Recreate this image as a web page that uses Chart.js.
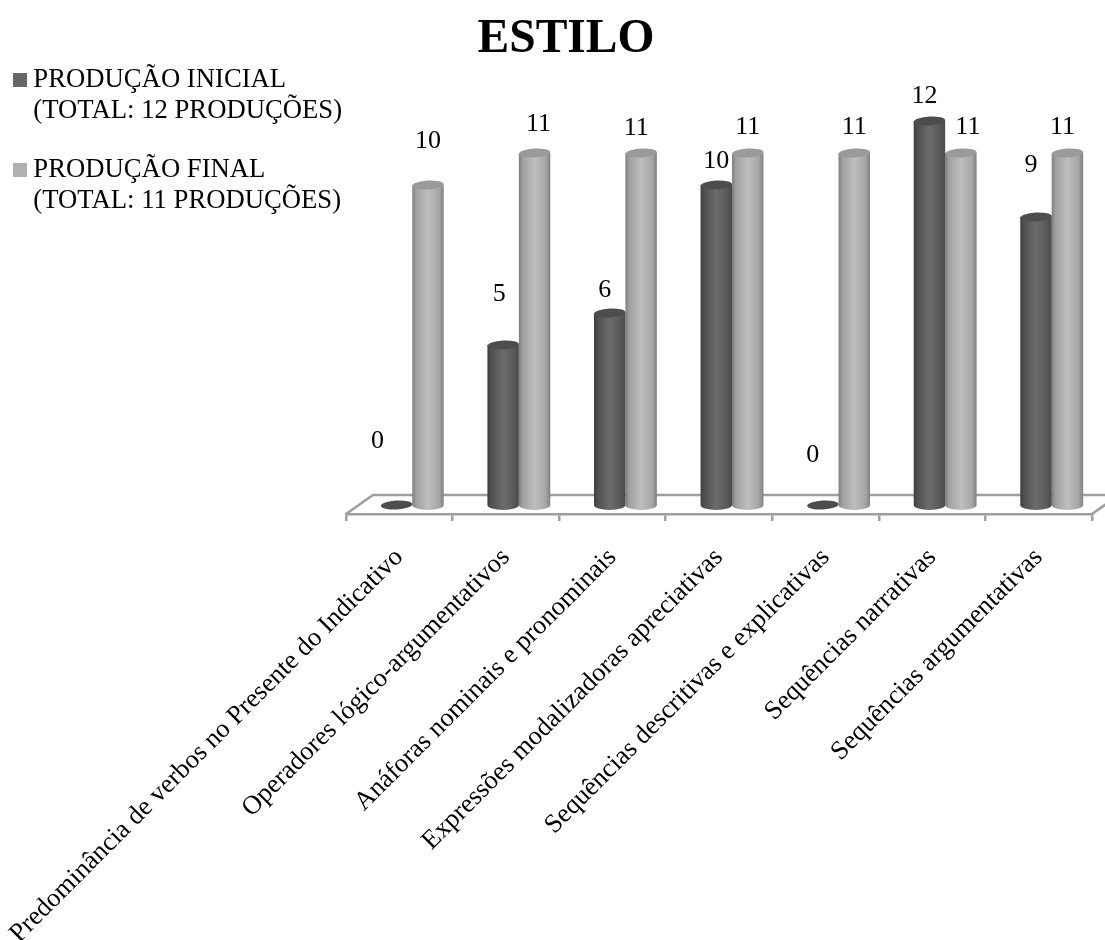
<!DOCTYPE html>
<html lang="pt">
<head>
<meta charset="utf-8">
<title>ESTILO</title>
<script src="https://cdn.jsdelivr.net/npm/chart.js@4/dist/chart.umd.js"></script>
<style>
  html, body { margin: 0; padding: 0; background: #fff; }
  #wrap { position: relative; width: 1105px; height: 940px; }
</style>
</head>
<body>
<div id="wrap"><canvas id="grafico"></canvas></div>
<script>
const categorias = [
  'Predominância de verbos no Presente do Indicativo',
  'Operadores lógico-argumentativos',
  'Anáforas nominais e pronominais',
  'Expressões modalizadoras apreciativas',
  'Sequências descritivas e explicativas',
  'Sequências narrativas',
  'Sequências argumentativas'
];
const producaoInicial = [0, 5, 6, 10, 0, 12, 9];
const producaoFinal = [10, 11, 11, 11, 11, 11, 11];
const legendaInicial = ['PRODUÇÃO INICIAL', '(TOTAL: 12 PRODUÇÕES)'];
const legendaFinal = ['PRODUÇÃO FINAL', '(TOTAL: 11 PRODUÇÕES)'];

const SERIF = '"Liberation Serif", "Times New Roman", serif';
const COR_ESCURA = '#666666';
const COR_CLARA = '#b0b0b0';
const COR_EIXO = '#9e9e9e';

// tons do corpo do cilindro, da esquerda para a direita, e o tom do topo
const tons = {
  [COR_ESCURA]: { corpo: ['#3e3e3e', '#505050', '#6c6c6c', '#585858', '#4a4a4a'], topo: '#4d4d4d' },
  [COR_CLARA]: { corpo: ['#7c7c7c', '#a0a0a0', '#bebebe', '#a6a6a6', '#808080'], topo: '#9a9a9a' }
};
const paradas = [0, 0.12, 0.5, 0.85, 1];

// deslocamento das colunas em relação às marcas do eixo, e profundidade do piso
const DESVIO_X = 13;
const PISO_X = 27;
const PISO_Y = 19;

// cada barra vira um cilindro, com a mesma geometria calculada pelo Chart.js
Chart.BarElement.prototype.draw = function (ctx) {
  const { x, y, base, width } = this.getProps(['x', 'y', 'base', 'width'], true);
  const cor = tons[this.options.backgroundColor] || tons[COR_CLARA];
  const cx = x + DESVIO_X;
  const rx = width / 2;
  const ry = 4.5;
  const inclinacao = -0.05;

  ctx.save();
  if (base - y > 0.5) {
    const grad = ctx.createLinearGradient(cx - rx, 0, cx + rx, 0);
    paradas.forEach((p, i) => grad.addColorStop(p, cor.corpo[i]));
    ctx.fillStyle = grad;
    ctx.beginPath();
    ctx.moveTo(cx - rx, y);
    ctx.lineTo(cx - rx, base);
    ctx.ellipse(cx, base, rx, ry + 0.5, 0, Math.PI, 0, true);
    ctx.lineTo(cx + rx, y);
    ctx.closePath();
    ctx.fill();
  }
  ctx.fillStyle = cor.topo;
  ctx.beginPath();
  ctx.ellipse(cx, y, rx, ry, inclinacao, 0, Math.PI * 2);
  ctx.fill();
  ctx.restore();
};

// amostra quadrada da legenda
const amostra = (cor) => {
  const c = document.createElement('canvas');
  c.width = 14;
  c.height = 14;
  const g = c.getContext('2d');
  g.fillStyle = cor;
  g.fillRect(0, 0, 14, 14);
  return c;
};

// ajuste fino de cada rótulo: [dx, altura acima do topo da coluna]
const ajusteInicial = [[-19, 64], [-4, 51], [-5, 23], [0, 24], [-10, 50], [-5, 25], [-5, 52]];
const ajusteFinal = [[0, 44], [4, 29], [-5, 25], [0, 26], [0, 26], [7, 26], [-5, 26]];

const pisoPlugin = {
  id: 'piso',
  afterLayout(chart) {
    // título e legenda ficam fora do eixo central do gráfico
    chart.titleBlock.left += 40;
    chart.legend.left = -8;
    chart.legend.top = 39;
  },
  beforeDatasetsDraw(chart) {
    const { left, right, bottom } = chart.chartArea;
    const { ctx } = chart;
    ctx.save();
    ctx.strokeStyle = COR_EIXO;
    ctx.lineWidth = 2.5;
    ctx.beginPath();
    ctx.moveTo(left, bottom);
    ctx.lineTo(left + PISO_X, bottom - PISO_Y);
    ctx.lineTo(right + PISO_X, bottom - PISO_Y);
    ctx.lineTo(right, bottom);
    ctx.stroke();
    ctx.restore();
  },
  afterDatasetsDraw(chart) {
    const { ctx } = chart;
    const ajustes = [ajusteInicial, ajusteFinal];
    ctx.save();
    ctx.font = '26px ' + SERIF;
    ctx.fillStyle = '#000';
    ctx.textAlign = 'center';
    ctx.textBaseline = 'middle';
    chart.data.datasets.forEach((ds, d) => {
      chart.getDatasetMeta(d).data.forEach((el, i) => {
        const [dx, altura] = ajustes[d][i];
        ctx.fillText(ds.data[i], el.x + DESVIO_X + dx, el.y - altura);
      });
    });
    ctx.restore();
  }
};

new Chart(document.getElementById('grafico').getContext('2d'), {
  type: 'bar',
  data: {
    labels: categorias,
    datasets: [
      { label: legendaInicial.join(' '), data: producaoInicial, backgroundColor: COR_ESCURA,
        categoryPercentage: 0.59, barPercentage: 1 },
      { label: legendaFinal.join(' '), data: producaoFinal, backgroundColor: COR_CLARA,
        categoryPercentage: 0.59, barPercentage: 1 }
    ]
  },
  plugins: [pisoPlugin],
  options: {
    responsive: true,
    maintainAspectRatio: false,
    animation: false,
    events: [],
    layout: { padding: { top: 0, right: 13, bottom: 0, left: 0 } },
    plugins: {
      tooltip: { enabled: false },
      title: {
        display: true,
        text: 'ESTILO',
        color: '#000',
        font: { family: SERIF, size: 47.5, weight: 'bold', lineHeight: 1.2 },
        padding: { top: 11, bottom: 21 }
      },
      legend: {
        position: 'chartArea',
        align: 'start',
        labels: {
          usePointStyle: true,
          boxWidth: 0.01,
          boxHeight: 14,
          padding: 28,
          color: '#000',
          font: { family: SERIF, size: 26.7, lineHeight: 31 / 26.7 },
          generateLabels: () => [
            { text: legendaInicial, pointStyle: amostra(COR_ESCURA), fontColor: '#000', datasetIndex: 0 },
            { text: legendaFinal, pointStyle: amostra(COR_CLARA), fontColor: '#000', datasetIndex: 1 }
          ]
        }
      }
    },
    scales: {
      x: {
        afterFit(scale) {
          scale.height = 426;
          scale.paddingLeft = 0;
          scale.paddingRight = 0;
        },
        border: { color: COR_EIXO, width: 2.5 },
        grid: { offset: true, drawOnChartArea: false, color: COR_EIXO, lineWidth: 2.5, tickLength: 7 },
        ticks: {
          autoSkip: false,
          minRotation: 45,
          maxRotation: 45,
          padding: 21,
          color: '#000',
          font: { family: SERIF, size: 26.5 }
        }
      },
      y: {
        min: -0.28125,
        max: 13,
        afterFit(scale) {
          scale.width = 346;
        },
        border: { display: false },
        grid: { display: false },
        ticks: { display: false }
      }
    }
  }
});
</script>
</body>
</html>
